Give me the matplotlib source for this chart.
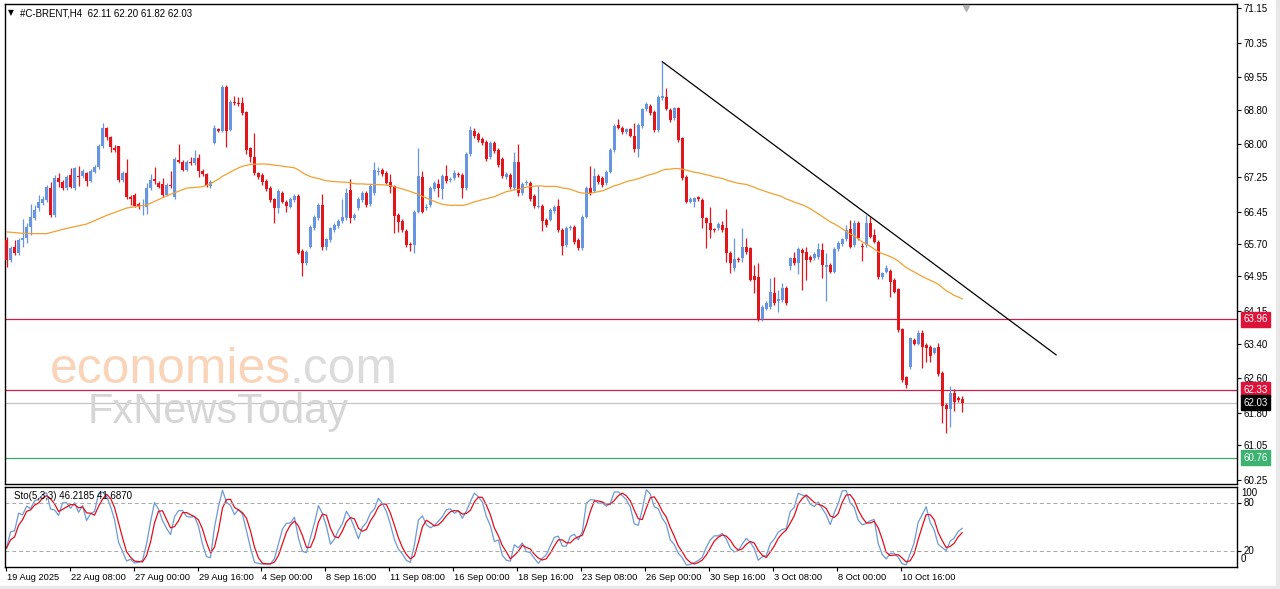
import numpy as np
import pandas as pd
import matplotlib
matplotlib.use("Agg")
import matplotlib.pyplot as plt
from matplotlib.transforms import ScaledTranslation, blended_transform_factory

plt.rcParams['font.family'] = ['Liberation Sans', 'DejaVu Sans']

# H4 candles (bar 0 = 19 Aug 2025)
opens = [
    65.79, 65.33, 65.64, 65.49, 65.79, 65.83, 66.10, 66.30, 66.52, 66.64,
    66.72, 66.99, 66.37, 67.22, 67.14, 66.99, 67.29, 66.99, 67.27, 67.27,
    67.33, 67.16, 67.37, 67.47, 67.96, 68.37, 68.16, 67.91, 67.96, 67.18,
    67.33, 66.78, 66.83, 66.62, 66.58, 66.56, 66.99, 67.20, 67.12, 67.08,
    66.83, 67.06, 66.79, 67.64, 67.59, 67.42, 67.60, 67.56, 67.69, 67.39,
    67.31, 67.04, 68.04, 68.35, 68.32, 69.33, 68.33, 68.99, 68.96, 68.96,
    68.74, 67.91, 67.72, 67.33, 67.29, 67.16, 66.99, 66.73, 66.52, 66.88,
    66.68, 66.56, 66.72, 66.81, 65.54, 65.26, 65.64, 66.07, 66.30, 66.60,
    65.64, 65.79, 66.02, 66.12, 66.22, 66.29, 66.95, 66.30, 66.53, 66.72,
    66.88, 66.62, 66.88, 67.37, 67.41, 67.35, 67.14, 67.04, 66.37, 66.24,
    66.00, 65.70, 65.68, 66.45, 67.25, 66.53, 66.60, 66.97, 67.09, 66.97,
    67.27, 67.18, 67.22, 67.32, 67.29, 66.99, 67.78, 68.32, 68.24, 68.12,
    68.06, 67.70, 68.04, 67.87, 67.66, 67.25, 67.29, 66.99, 67.60, 66.88,
    67.10, 67.12, 66.81, 66.56, 66.58, 66.26, 66.26, 66.46, 66.58, 66.02,
    65.68, 66.06, 66.10, 65.79, 65.60, 66.32, 66.99, 66.93, 67.27, 67.22,
    67.10, 67.37, 67.87, 68.45, 68.39, 68.29, 68.35, 68.20, 67.90, 68.42,
    68.81, 68.89, 68.75, 68.33, 69.07, 69.10, 68.79, 68.60, 68.83, 68.14,
    67.25, 66.68, 66.68, 66.78, 66.72, 66.29, 66.19, 66.04, 66.06, 66.14,
    66.06, 65.50, 65.14, 65.35, 65.37, 65.62, 65.60, 64.96, 64.94, 63.96,
    64.21, 64.25, 64.56, 64.39, 64.41, 64.68, 65.19, 65.37, 65.26, 65.56,
    65.52, 65.40, 65.37, 65.39, 65.56, 65.18, 65.22, 65.06, 65.58, 65.70,
    65.81, 66.04, 65.68, 66.19, 65.65, 65.68, 66.18, 65.91, 65.75, 64.93,
    65.06, 65.08, 64.87, 64.65, 63.73, 62.62, 62.85, 63.49, 63.40, 63.64,
    63.37, 63.33, 63.19, 63.33, 62.73, 61.98, 61.88, 62.25, 62.14, 62.11,
]
highs = [
    65.86, 65.65, 65.79, 65.83, 66.27, 66.18, 66.62, 66.60, 66.83, 66.80,
    67.06, 67.14, 67.29, 67.33, 67.18, 67.29, 67.45, 67.48, 67.50, 67.43,
    67.37, 67.43, 67.52, 68.00, 68.49, 68.41, 68.20, 67.99, 67.96, 67.39,
    67.66, 66.83, 66.87, 66.66, 66.73, 67.11, 67.31, 67.47, 67.16, 67.22,
    67.10, 67.39, 67.70, 68.01, 67.63, 67.64, 67.72, 67.87, 67.79, 67.43,
    67.35, 67.17, 68.45, 68.39, 69.37, 69.37, 69.03, 69.12, 69.09, 69.09,
    68.78, 67.95, 68.27, 67.37, 67.33, 67.20, 67.04, 66.77, 66.97, 66.92,
    66.72, 66.79, 66.85, 66.85, 65.58, 65.56, 66.14, 66.37, 66.64, 66.86,
    65.84, 66.10, 66.18, 66.28, 66.75, 66.99, 67.19, 66.41, 66.78, 66.92,
    66.92, 67.08, 67.60, 67.48, 67.45, 67.39, 67.32, 67.06, 66.41, 66.28,
    66.04, 65.74, 66.49, 67.91, 67.39, 66.62, 67.04, 67.15, 67.19, 67.31,
    67.52, 67.24, 67.41, 67.36, 67.33, 67.82, 68.42, 68.37, 68.28, 68.16,
    68.10, 68.08, 68.08, 67.91, 67.70, 67.36, 67.33, 67.83, 68.02, 67.13,
    67.18, 67.16, 66.85, 67.04, 66.62, 66.30, 66.53, 66.59, 66.75, 66.06,
    66.11, 66.14, 66.14, 65.83, 66.37, 67.03, 67.50, 67.45, 67.31, 67.26,
    67.41, 67.91, 68.46, 68.58, 68.43, 68.39, 68.39, 68.49, 68.49, 68.85,
    68.98, 68.93, 68.79, 69.14, 69.91, 69.30, 68.83, 68.87, 68.87, 68.18,
    67.29, 66.78, 66.79, 66.82, 66.76, 66.33, 66.56, 66.07, 66.20, 66.24,
    66.50, 65.54, 65.83, 65.40, 66.06, 65.85, 65.64, 65.21, 65.25, 64.29,
    64.38, 64.91, 64.94, 64.64, 64.79, 64.72, 65.41, 65.52, 65.62, 65.60,
    65.62, 65.44, 65.51, 65.72, 65.73, 65.49, 65.26, 65.62, 65.77, 65.85,
    66.14, 66.25, 66.25, 66.23, 65.72, 66.37, 66.33, 66.04, 65.79, 65.06,
    65.22, 65.12, 64.91, 64.69, 63.77, 62.66, 63.56, 63.53, 63.71, 63.71,
    63.41, 63.37, 63.33, 63.41, 62.77, 62.02, 62.42, 62.34, 62.20, 62.20,
]
lows = [
    65.17, 65.29, 65.45, 65.45, 65.64, 65.72, 65.91, 66.25, 66.47, 66.60,
    66.68, 66.33, 66.33, 67.02, 66.95, 66.95, 66.99, 66.95, 67.04, 67.22,
    67.04, 67.13, 67.33, 67.43, 67.92, 68.10, 67.83, 67.83, 67.14, 67.14,
    66.75, 66.60, 66.55, 66.51, 66.37, 66.39, 66.95, 67.08, 66.99, 66.78,
    66.80, 67.00, 66.75, 67.56, 67.38, 67.38, 67.52, 67.52, 67.25, 67.28,
    67.01, 66.99, 68.02, 68.28, 68.28, 67.93, 68.30, 68.91, 68.89, 68.69,
    67.79, 67.60, 67.29, 67.20, 67.06, 66.92, 66.68, 66.19, 66.41, 66.64,
    66.45, 66.53, 66.68, 65.47, 64.95, 65.22, 65.60, 66.03, 66.26, 65.56,
    65.56, 65.75, 65.98, 66.08, 66.19, 66.25, 66.19, 66.26, 66.49, 66.68,
    66.56, 66.58, 66.84, 67.29, 67.28, 67.08, 66.87, 65.96, 65.98, 65.98,
    65.64, 65.54, 65.50, 66.41, 66.41, 66.49, 66.56, 66.93, 66.78, 66.73,
    67.12, 67.14, 67.18, 67.25, 66.76, 66.95, 67.74, 68.15, 68.06, 67.99,
    67.62, 67.66, 67.81, 67.48, 67.23, 67.21, 66.97, 66.95, 66.81, 66.84,
    67.06, 66.69, 66.54, 66.52, 66.00, 66.10, 66.22, 66.42, 65.98, 65.45,
    65.64, 66.02, 65.71, 65.56, 65.56, 66.29, 66.84, 66.89, 67.09, 67.02,
    67.06, 67.33, 67.83, 68.35, 68.25, 68.25, 68.16, 67.83, 67.72, 68.38,
    68.77, 68.69, 68.29, 68.29, 69.03, 68.79, 68.52, 68.56, 68.06, 67.18,
    66.64, 66.64, 66.56, 66.69, 66.06, 65.61, 65.83, 65.98, 66.02, 65.98,
    65.29, 65.02, 65.08, 65.28, 65.29, 65.47, 64.84, 64.57, 63.92, 63.92,
    64.17, 64.21, 64.29, 64.14, 64.37, 64.30, 65.10, 65.22, 65.01, 64.64,
    64.87, 65.28, 65.33, 65.35, 64.91, 64.39, 65.02, 65.02, 65.54, 65.66,
    65.77, 65.60, 65.64, 65.79, 65.31, 65.64, 65.83, 65.72, 64.89, 64.89,
    65.02, 64.48, 64.56, 63.67, 62.52, 62.37, 62.81, 63.36, 63.36, 62.83,
    62.98, 62.98, 63.15, 62.66, 61.56, 61.33, 61.48, 61.85, 62.05, 61.82,
]
closes = [
    65.33, 65.61, 65.49, 65.79, 65.83, 66.10, 66.33, 66.49, 66.68, 66.75,
    67.02, 66.37, 67.22, 67.14, 66.99, 67.25, 67.02, 67.45, 67.25, 67.39,
    67.16, 67.39, 67.48, 67.96, 68.37, 68.18, 67.93, 67.87, 67.18, 67.35,
    66.78, 66.73, 66.58, 66.55, 66.60, 66.99, 67.18, 67.16, 67.02, 66.83,
    67.06, 67.04, 67.66, 67.60, 67.42, 67.60, 67.56, 67.69, 67.39, 67.32,
    67.06, 67.13, 68.37, 68.32, 69.33, 68.32, 68.99, 68.95, 68.93, 68.73,
    67.87, 67.72, 67.33, 67.24, 67.14, 66.96, 66.72, 66.52, 66.93, 66.68,
    66.58, 66.75, 66.81, 65.50, 65.26, 65.52, 66.10, 66.33, 66.60, 65.64,
    65.81, 66.07, 66.14, 66.24, 66.33, 66.88, 66.29, 66.37, 66.74, 66.88,
    66.60, 67.04, 67.41, 67.39, 67.32, 67.12, 67.02, 66.35, 66.21, 66.02,
    65.68, 65.68, 66.45, 67.27, 66.45, 66.56, 66.99, 67.11, 66.99, 67.27,
    67.16, 67.20, 67.35, 67.29, 66.99, 67.78, 68.33, 68.19, 68.10, 68.03,
    67.66, 68.04, 67.85, 67.52, 67.27, 67.32, 67.01, 67.60, 66.88, 67.09,
    67.14, 66.73, 66.58, 66.58, 66.24, 66.14, 66.49, 66.55, 66.02, 65.65,
    66.07, 66.10, 65.75, 65.60, 66.33, 66.99, 66.88, 67.27, 67.13, 67.06,
    67.37, 67.87, 68.42, 68.39, 68.29, 68.35, 68.20, 67.90, 68.45, 68.81,
    68.93, 68.73, 68.33, 69.10, 69.12, 68.81, 68.56, 68.83, 68.10, 67.22,
    66.68, 66.73, 66.76, 66.73, 66.29, 66.18, 66.02, 66.02, 66.16, 66.02,
    65.49, 65.26, 65.35, 65.33, 65.62, 65.52, 64.88, 64.87, 63.96, 64.25,
    64.34, 64.58, 64.34, 64.42, 64.68, 64.34, 65.37, 65.26, 65.58, 65.49,
    65.33, 65.32, 65.47, 65.58, 65.22, 65.22, 65.06, 65.58, 65.73, 65.81,
    66.02, 65.64, 66.19, 65.83, 65.63, 66.18, 65.87, 65.75, 64.93, 65.02,
    65.14, 64.83, 64.60, 63.71, 62.56, 62.44, 63.52, 63.40, 63.65, 63.33,
    63.29, 63.11, 63.29, 62.70, 61.96, 61.88, 62.27, 62.06, 62.10, 62.03,
]

# MA(50) before enough bars are on screen
ma_warmup_bars = [0, 5, 10, 15, 20, 25, 30, 35, 40, 45]
ma_warmup = [65.98, 65.94, 65.94, 66.06, 66.16, 66.36, 66.53, 66.60, 66.81, 66.99]

price_ticks = [71.15, 70.35, 69.55, 68.80, 68.00, 67.25, 66.45, 65.70,
               64.95, 64.15, 63.40, 62.60, 61.80, 61.05, 60.25]

levels = [63.96, 62.33, 62.03, 60.76]
level_line_colors = ['#C8204C', '#C8204C', '#C4C4C4', '#3CA96A']
level_box_colors = ['#DC143C', '#DC143C', '#000000', '#3CB371']

trend_bars = [164, 262.5]
trend_prices = [69.91, 63.14]

date_labels = ['19 Aug 2025', '22 Aug 08:00', '27 Aug 00:00', '29 Aug 16:00',
               '4 Sep 00:00', '8 Sep 16:00', '11 Sep 08:00', '16 Sep 00:00',
               '18 Sep 16:00', '23 Sep 08:00', '26 Sep 00:00', '30 Sep 16:00',
               '3 Oct 08:00', '8 Oct 00:00', '10 Oct 16:00']

bull, bear = '#6795E0', '#E3141C'

o = np.array(opens); h = np.array(highs); l = np.array(lows); c = np.array(closes)
n = len(c)
x = np.arange(n)

W, H = 1280, 589
fig = plt.figure(figsize=(W / 100, H / 100), dpi=100)
fig.patch.set_facecolor('white')

# main price panel
ax = fig.add_axes([5 / W, 1 - 484 / H, 1232 / W, 480 / H])
ax.set_xlim(-0.4, 307.75)
ax.set_ylim(60.157, 71.243)

up = c >= o
cols = np.where(up, bull, bear)
ax.vlines(x, l, h, colors=cols, lw=0.9, zorder=3)
ax.bar(x, np.maximum(np.abs(c - o), 0.025), bottom=np.minimum(o, c), width=0.75,
       color=cols, linewidth=0, zorder=4)

# 50-period SMA
ma = pd.Series(c).rolling(50).mean().values
ma_x = np.concatenate([ma_warmup_bars, x[49:]])
ma_y = np.concatenate([ma_warmup, ma[49:]])
ax.plot(ma_x, ma_y, color='#F2A031', lw=0.9, zorder=5)

ax.plot(trend_bars, trend_prices, color='black', lw=0.9, zorder=5)

for lev, lc in zip(levels, level_line_colors):
    ax.axhline(lev, color=lc, lw=0.9, zorder=2)

ax.set_xticks([])
ax.yaxis.tick_right()
ax.set_yticks(price_ticks)
ax.set_yticklabels([f'{t:.2f}' for t in price_ticks])
ax.tick_params(axis='y', direction='out', length=3, width=0.8, pad=1.5,
               labelsize=7, colors='black')
for sp in ax.spines.values():
    sp.set_color('black')
    sp.set_linewidth(1)

tr = blended_transform_factory(ax.transAxes, ax.transData)
for lev, bc in zip(levels, level_box_colors):
    ax.text(1 + 6 / 1232, lev, f'{lev:.2f}', transform=tr, fontsize=7, color='white',
            va='center', ha='left', zorder=10, clip_on=False,
            bbox=dict(boxstyle='square,pad=0.25', fc=bc, ec=bc))

ax.plot([240], [71.15], marker='v', color='#B0B0B0', ms=5, clip_on=False, zorder=6)

# stochastic panel
sx = fig.add_axes([5 / W, 1 - 566.5 / H, 1232 / W, 80 / H])
sx.set_xlim(ax.get_xlim())
sx.set_ylim(0, 100)
ll = pd.Series(l).rolling(5, min_periods=1).min()
hh = pd.Series(h).rolling(5, min_periods=1).max()
cs = pd.Series(c)
k = (cs - ll).rolling(3, min_periods=1).sum() / (hh - ll).rolling(3, min_periods=1).sum() * 100
d = k.rolling(3, min_periods=1).mean()
sx.plot(x, k, color='#6C9BD6', lw=0.9)
sx.plot(x, d, color='#E0101E', lw=0.9)
for lvl in (80, 20):
    sx.axhline(lvl, color='#A8A8A8', lw=0.7, ls=(0, (4, 3)))
sx.yaxis.tick_right()
sx.set_yticks([80, 20])
sx.set_yticklabels(['80', '20'])
sx.tick_params(axis='y', direction='out', length=3, width=0.8, pad=1.5, labelsize=7)
str_ = blended_transform_factory(sx.transAxes, sx.transData)
sx.text(1 + 4 / 1232, 92, '100', transform=str_, fontsize=7, va='center', ha='left', clip_on=False)
sx.text(1 + 4 / 1232, 9, '0', transform=str_, fontsize=7, va='center', ha='left', clip_on=False)
tick_pos = [16 * i - 0.25 for i in range(len(date_labels))]
sx.set_xticks(tick_pos)
sx.set_xticklabels(date_labels)
sx.tick_params(axis='x', direction='out', length=3, width=0.8, pad=1.5, labelsize=6.7)
for lbl in sx.get_xticklabels():
    lbl.set_horizontalalignment('left')
    lbl.set_transform(lbl.get_transform() + ScaledTranslation(1 / 100, 0, fig.dpi_scale_trans))
for sp in sx.spines.values():
    sp.set_color('black')
    sp.set_linewidth(1)
sx.text(9 / 1232, 0.88, 'Sto(5,3,3) 46.2185 41.6870', transform=sx.transAxes,
        fontsize=7, va='center', ha='left')

# header
fig.text(11 / W, 1 - 13 / H, '\u25BC', fontsize=5.5, va='center', ha='center',
         family=['DejaVu Sans'])
fig.text(20 / W, 1 - 13 / H, '#C-BRENT,H4  62.11 62.20 61.82 62.03', fontsize=7, va='center')

# watermark
fig.text(50 / W, 1 - 383 / H, 'economies', fontsize=35.8, color='#F9D4B9', va='baseline', zorder=20)
fig.text(290 / W, 1 - 383 / H, '.com', fontsize=35.8, color='#DCDCDC', va='baseline', zorder=20)
fig.text(88 / W, 1 - 423 / H, 'FxNewsToday', fontsize=30, color='#D6D6D6', va='baseline', zorder=20)

# window frame
fig.add_artist(plt.Rectangle((1276 / W, 0), 4 / W, 1, transform=fig.transFigure, color='#E8E8E8'))
fig.add_artist(plt.Rectangle((0, 0), 1, 3 / H, transform=fig.transFigure, color='#E8E8E8'))

fig.savefig('out.png', dpi=100)
